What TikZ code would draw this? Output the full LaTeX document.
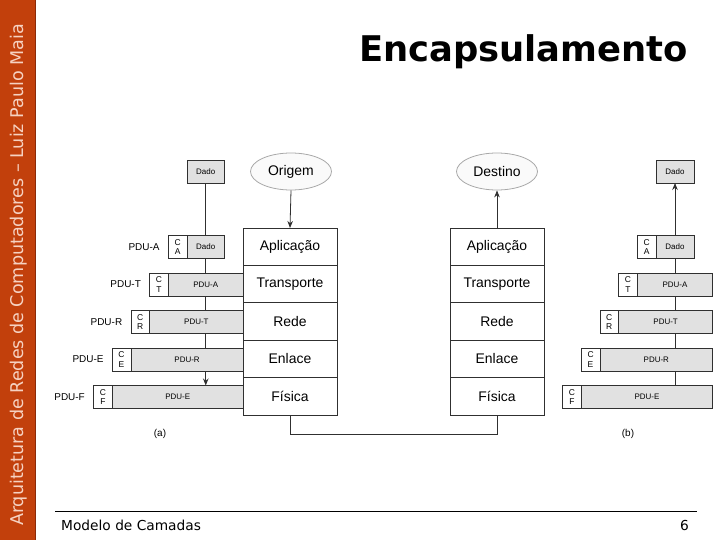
\documentclass[tikz,border=0pt]{standalone}
\usepackage{fontspec}
\setmainfont{Liberation Sans}
\newfontfamily\slidefont{DejaVu Sans}
\usetikzlibrary{arrows.meta,positioning,shapes.geometric,backgrounds}
\definecolor{SideBar}{HTML}{C2400C}
\definecolor{SideEdge}{HTML}{8A2A08}
\definecolor{SideText}{HTML}{F6D2C2}
\definecolor{BoxFill}{HTML}{E1E1E1}
\definecolor{InkDark}{HTML}{303030}
\definecolor{OvalEdge}{HTML}{A8A8A8}
\definecolor{OvalFill}{HTML}{FAFAFA}
\tikzset{
  hdr/.style={draw=InkDark, line width=0.8bp, fill=white, anchor=north west,
              minimum width=18.7bp, minimum height=23bp, inner sep=0pt, outer sep=0pt,
              align=center, font=\fontsize{8.5}{9.5}\selectfont},
  pay/.style={draw=InkDark, line width=0.8bp, fill=BoxFill, anchor=north west,
              minimum height=23bp, inner sep=0pt, outer sep=0pt,
              font=\fontsize{8}{9}\selectfont},
  pdulbl/.style={font=\fontsize{10}{11}\selectfont, inner sep=0pt},
  layer/.style={draw=InkDark, line width=0.8bp, fill=white, minimum width=94bp,
                minimum height=37.4bp, inner sep=0pt, outer sep=0pt,
                font=\fontsize{14}{16}\selectfont},
  endpt/.style={ellipse, draw=OvalEdge, line width=0.8bp, fill=OvalFill,
                minimum width=81bp, minimum height=37bp, inner sep=0pt,
                font=\fontsize{14}{16}\selectfont},
  link/.style={draw=InkDark, line width=0.8bp},
  flow/.style={link, -{Stealth[length=7bp,width=5.5bp]}},
  sublbl/.style={font=\fontsize{10}{11}\selectfont},
}

\begin{document}
\begin{tikzpicture}[x=1bp, y=-1bp]
\useasboundingbox (0,0) rectangle (720,540);
% slide frame
\fill[SideBar] (0,0) rectangle (36,540);
\draw[SideEdge, line width=1bp] (35.5,0) -- (35.5,540);
\node[rotate=90, text=SideText, font=\slidefont\fontsize{17.6}{20}\selectfont] (side) at (19,275)
  {Arquitetura de Redes de Computadores – Luiz Paulo Maia};
\node[anchor=base, font=\slidefont\bfseries\fontsize{35.5}{40}\selectfont] (title) at (523.5,62) {Encapsulamento};
\draw[black, line width=1bp] (55,511) -- (697,511);
\node[anchor=base west, inner sep=0pt, font=\slidefont\fontsize{13.8}{15}\selectfont] (foot) at (61,530) {Modelo de Camadas};
\node[anchor=base east, inner sep=0pt, font=\slidefont\fontsize{13.8}{15}\selectfont] (page) at (689,530) {6};

% (a) emissor
\node[pay, minimum width=37.5bp, align=center] (dadoA) at (187,160) {Dado};
\node[hdr] (caA) at (168.3,235.5) {C\\A};
\node[pay, minimum width=37.5bp] (aA) at (187,235.5) {Dado};
\node[hdr] (ctA) at (149.6,273) {C\\T};
\node[pay, minimum width=74.9bp] (tA) at (168.3,273) {PDU-A};
\node[hdr] (crA) at (130.9,310.5) {C\\R};
\node[pay, minimum width=93.6bp] (rA) at (149.6,310.5) {PDU-T};
\node[hdr] (ceA) at (112.2,348) {C\\E};
\node[pay, minimum width=112.3bp] (eA) at (130.9,348) {PDU-R};
\node[hdr] (cfA) at (93.5,385.5) {C\\F};
\node[pay, minimum width=131bp] (fA) at (112.2,385.5) {PDU-E};
\node[pdulbl, left=8.5bp of caA] (lA) {PDU-A};
\node[pdulbl, left=8.5bp of ctA] (lT) {PDU-T};
\node[pdulbl, left=8.5bp of crA] (lR) {PDU-R};
\node[pdulbl, left=8.5bp of ceA] (lE) {PDU-E};
\node[pdulbl, left=8.5bp of cfA] (lF) {PDU-F};
\node[sublbl] (capA) at (160,434) {(a)};
\begin{scope}[on background layer]
\draw[flow] (dadoA.south) -- (dadoA.south |- fA.north);
\end{scope}

% (b) receptor
\node[pay, minimum width=38bp, align=center] (dadoB) at (656,160) {Dado};
\node[hdr] (caB) at (637.3,235.5) {C\\A};
\node[pay, minimum width=38bp] (aB) at (656,235.5) {Dado};
\node[hdr] (ctB) at (618.6,273) {C\\T};
\node[pay, minimum width=75.4bp] (tB) at (637.3,273) {PDU-A};
\node[hdr] (crB) at (599.9,310.5) {C\\R};
\node[pay, minimum width=94.1bp] (rB) at (618.6,310.5) {PDU-T};
\node[hdr] (ceB) at (581.2,348) {C\\E};
\node[pay, minimum width=112.8bp] (eB) at (599.9,348) {PDU-R};
\node[hdr] (cfB) at (562.5,385.5) {C\\F};
\node[pay, minimum width=131.5bp] (fB) at (581.2,385.5) {PDU-E};
\node[sublbl] (capB) at (628,434) {(b)};
\begin{scope}[on background layer]
\draw[flow] (dadoB.south |- fB.north) -- (dadoB.south);
\end{scope}

% pilhas de camadas
\node[layer] (apL) at (290,246.7) {Aplicação};
\node[layer, below=0bp of apL] (trL) {Transporte};
\node[layer, below=0bp of trL] (reL) {Rede};
\node[layer, below=0bp of reL] (enL) {Enlace};
\node[layer, below=0bp of enL] (fiL) {Física};
\node[layer] (apR) at (497,246.7) {Aplicação};
\node[layer, below=0bp of apR] (trR) {Transporte};
\node[layer, below=0bp of trR] (reR) {Rede};
\node[layer, below=0bp of reR] (enR) {Enlace};
\node[layer, below=0bp of enR] (fiR) {Física};
\node[endpt] (orig) at (291,171.5) {Origem};
\node[endpt] (dest) at (497,171.5) {Destino};
\draw[flow] (orig.south) -- (apL.north);
\draw[flow] (apR.north) -- (dest.south);
\draw[link] (fiL.south) -- ++(0,19.5) -| (fiR.south);
\end{tikzpicture}
\end{document}
